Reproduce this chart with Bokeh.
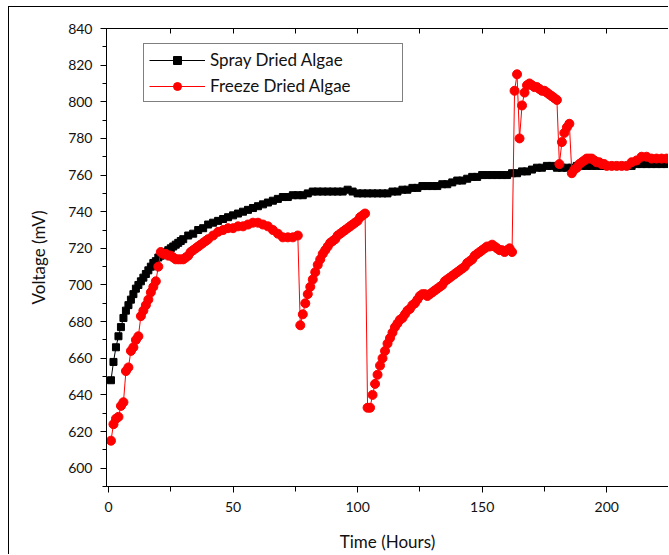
from bokeh.plotting import figure
from bokeh.models import (Range1d, LinearAxis, FixedTicker, Legend, LegendItem,
                          ColumnDataSource)
from bokeh.embed import file_html
from bokeh.resources import INLINE

# ---------------- data ----------------
spray_time = list(range(1, 31)) + list(range(32, 226, 2))
spray_mv = [648, 658, 666, 672, 677, 682, 686, 689, 692, 695,
            698, 700, 702, 704, 706, 708, 710, 712, 713, 715,
            716, 717, 718, 719, 720, 721, 722, 723, 724, 725,
            # 32 .. 224 step 2
            727, 728, 730, 731, 733, 734, 735, 736, 737, 738,
            739, 740, 741, 742, 743, 744, 745, 746, 747, 748,
            748, 749, 749, 749, 750, 751, 751, 751, 751, 751,
            751, 751, 752, 751, 750, 750, 750, 750, 750, 750,
            750, 751, 751, 752, 752, 753, 753, 754, 754, 754,
            754, 755, 755, 756, 757, 757, 758, 759, 759, 760,
            760, 760, 760, 760, 760, 761, 761, 762, 762, 763,
            764, 764, 765, 765, 764, 764, 764, 764, 765, 765,
            765, 765, 765, 765, 765, 765, 765, 765, 765, 765,
            766, 766, 766, 766, 766, 766, 766]

freeze_time = (list(range(1, 41)) + list(range(42, 77, 2)) + list(range(77, 200))
               + list(range(200, 226, 2)))
freeze_mv = [615, 624, 627, 628, 634, 636, 653, 655, 664, 666,
             670, 672, 683, 686, 689, 692, 696, 699, 702, 710,
             718, 717, 717, 716, 716, 715, 714, 714, 714, 714,
             715, 716, 718, 719, 720, 721, 722, 723, 724, 725,
             # 42 .. 76 step 2
             727, 729, 730, 731, 731, 732, 732, 733, 734, 734,
             733, 732, 730, 728, 726, 726, 726, 727,
             # 77 .. 103
             678, 684, 690, 695, 699, 703, 707, 711, 714, 717,
             719, 721, 723, 724, 725, 727, 728, 729, 730, 731,
             732, 733, 734, 735, 737, 738, 739,
             # 104 .. 162
             633, 633, 640, 646, 651, 656, 660, 664, 668, 671,
             674, 677, 679, 681, 682, 684, 686, 687, 689, 690,
             692, 694, 695, 695, 694, 695, 696, 697, 698, 699,
             700, 702, 703, 704, 705, 706, 707, 708, 709, 710,
             712, 713, 714, 716, 717, 718, 719, 720, 721, 721,
             722, 721, 720, 719, 719, 718, 719, 720, 718,
             # 163 .. 199
             806, 815, 780, 798, 805, 809, 810, 809, 808, 808,
             807, 806, 806, 805, 804, 803, 802, 801, 766, 778,
             783, 786, 788, 761, 763, 764, 766, 767, 768, 769,
             769, 769, 768, 767, 767, 766, 766,
             # 200 .. 224 step 2
             765, 765, 765, 765, 765, 767, 768, 770, 770, 769,
             769, 769, 769]

x_tick_labels = [0, 50, 100, 150, 200]
y_tick_labels = [600, 620, 640, 660, 680, 700, 720, 740, 760, 780, 800, 820, 840]
series_names = ["Spray Dried Algae", "Freeze Dried Algae"]

FONT = "Lato"

# ---------------- figure ----------------
# the figure sits inside an outer frame whose left/top edges are drawn by CSS
p = figure(width=660, height=548, output_backend="svg", toolbar_location=None,
           x_range=Range1d(-0.8, 224.8), y_range=Range1d(590, 840),
           min_border_left=97, min_border_right=1, min_border_top=21,
           min_border_bottom=69)
p.styles = {"margin-left": "8px", "margin-top": "6px",
            "border-left": "1px solid black", "border-top": "1px solid black"}
p.xgrid.visible = False
p.ygrid.visible = False
p.outline_line_color = "black"
p.outline_line_width = 1
p.background_fill_color = "white"
p.border_fill_color = "white"

src_s = ColumnDataSource(dict(x=spray_time, y=spray_mv))
src_f = ColumnDataSource(dict(x=freeze_time, y=freeze_mv))

sl = p.line("x", "y", source=src_s, line_color="black", line_width=1)
ss = p.scatter("x", "y", source=src_s, marker="square", size=7,
               fill_color="black", line_color="black")
fl = p.line("x", "y", source=src_f, line_color="red", line_width=1)
fs = p.scatter("x", "y", source=src_f, marker="circle", size=9,
               fill_color="red", line_color="red")

# axes
xa = p.xaxis[0]
xa.ticker = FixedTicker(ticks=x_tick_labels, minor_ticks=[25, 75, 125, 175, 225])
xa.axis_label = "Time (Hours)"
ya = p.yaxis[0]
ya.ticker = FixedTicker(ticks=y_tick_labels,
                        minor_ticks=[590 + 20 * i for i in range(13)])
ya.axis_label = "Voltage (mV)"

for ax in (xa, ya):
    ax.axis_line_color = "black"
    ax.major_tick_line_color = "black"
    ax.minor_tick_line_color = "black"
    ax.major_tick_in = 0
    ax.minor_tick_in = 0
    ax.major_tick_out = 6
    ax.minor_tick_out = 5
    ax.major_label_text_font = FONT
    ax.major_label_text_font_size = "14px"
    ax.major_label_text_color = "#111111"
    ax.axis_label_text_font = FONT
    ax.axis_label_text_font_size = "17px"
    ax.axis_label_text_font_style = "normal"
    ax.axis_label_text_color = "#111111"
ya.minor_tick_out = 4
ya.major_label_standoff = 8
ya.axis_label_standoff = 16
xa.major_label_standoff = 9
xa.axis_label_standoff = 16

# top axis: only inward tick marks, no labels
top = LinearAxis(ticker=FixedTicker(ticks=[], minor_ticks=[25, 50, 75, 100, 125, 150,
                                                           175, 200, 225]),
                 major_tick_in=0, major_tick_out=0, minor_tick_in=5, minor_tick_out=0,
                 minor_tick_line_color="black", axis_line_color="black")
p.add_layout(top, "above")

legend = Legend(items=[LegendItem(label=series_names[0], renderers=[sl, ss]),
                       LegendItem(label=series_names[1], renderers=[fl, fs])],
                location=(37, 384))
legend.border_line_color = "black"
legend.border_line_width = 1
legend.background_fill_color = "white"
legend.background_fill_alpha = 1
legend.label_text_font = FONT
legend.label_text_font_size = "17px"
legend.label_text_color = "#111111"
legend.glyph_width = 56
legend.glyph_height = 20
legend.label_height = 20
legend.label_width = 187
legend.spacing = 5
legend.padding = 5
legend.margin = 0
legend.label_standoff = 5
p.add_layout(legend)

open("out.html", "w").write(file_html(p, INLINE))
